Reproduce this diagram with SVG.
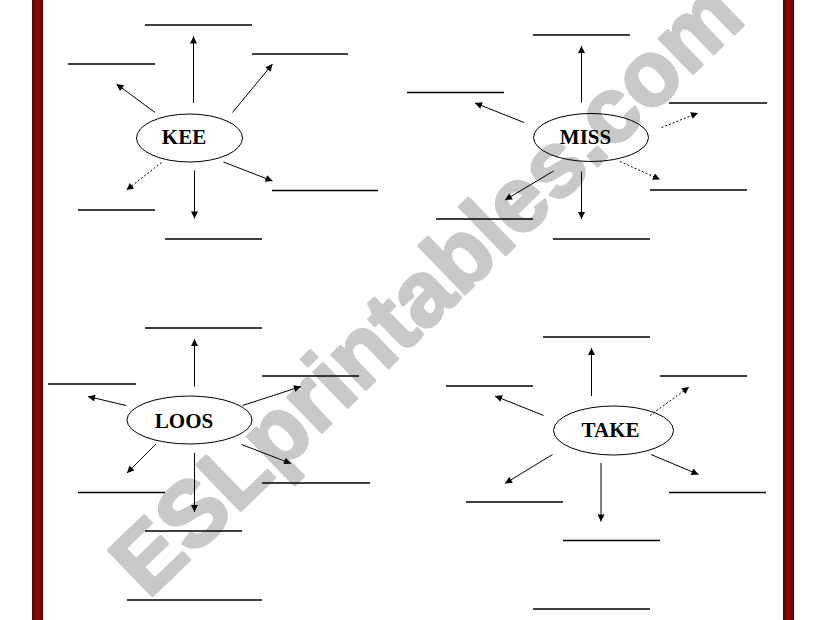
<svg xmlns="http://www.w3.org/2000/svg" width="821" height="620" viewBox="0 0 821 620">
<defs>
<linearGradient id="bar" x1="0" y1="0" x2="1" y2="0">
<stop offset="0" stop-color="#5e0000"/>
<stop offset="0.5" stop-color="#8e0c0c"/>
<stop offset="1" stop-color="#5e0000"/>
</linearGradient>
<marker id="ah" viewBox="0 0 10 10" refX="10" refY="5" markerWidth="9" markerHeight="7" markerUnits="userSpaceOnUse" orient="auto">
<path d="M0,0 L10,5 L0,10 z" fill="#000"/>
</marker>
</defs>
<style>
.blank{stroke:#000;stroke-width:1.3;fill:none}
.arr{stroke:#000;stroke-width:1;fill:none;marker-end:url(#ah)}
.dot{stroke-dasharray:2 2}
.node ellipse{fill:#fff;fill-opacity:0;stroke:#000;stroke-width:1}
.node text{font-family:"Liberation Serif","Times New Roman",serif;font-weight:bold;font-size:21px;text-anchor:middle;fill:#000}
.wm{font-family:"Liberation Sans",Arial,sans-serif;font-weight:bold;font-size:92px;fill:#c9c9c9;stroke:#c9c9c9;stroke-width:3;stroke-linejoin:round}
</style>
<rect width="821" height="620" fill="#fff"/>
<rect x="32" y="0" width="11" height="620" fill="url(#bar)"/>
<rect x="783" y="0" width="11" height="620" fill="url(#bar)"/>
<text class="wm" transform="translate(148,600) rotate(-44)">ESLprintables.com</text>

<g id="blanks">
<line class="blank" x1="145" y1="25" x2="252" y2="25"/>
<line class="blank" x1="68" y1="64" x2="155" y2="64"/>
<line class="blank" x1="252" y1="54" x2="348" y2="54"/>
<line class="blank" x1="272" y1="190.5" x2="378" y2="190.5"/>
<line class="blank" x1="78" y1="210" x2="155" y2="210"/>
<line class="blank" x1="165" y1="239" x2="262" y2="239"/>

<line class="blank" x1="533" y1="35" x2="630" y2="35"/>
<line class="blank" x1="407" y1="92.5" x2="504" y2="92.5"/>
<line class="blank" x1="669" y1="103" x2="767" y2="103"/>
<line class="blank" x1="650" y1="190" x2="747" y2="190"/>
<line class="blank" x1="436" y1="219" x2="533" y2="219"/>
<line class="blank" x1="553" y1="239" x2="650" y2="239"/>

<line class="blank" x1="145" y1="328" x2="262" y2="328"/>
<line class="blank" x1="48" y1="384" x2="136" y2="384"/>
<line class="blank" x1="262" y1="376" x2="359" y2="376"/>
<line class="blank" x1="262" y1="483" x2="370" y2="483"/>
<line class="blank" x1="78" y1="492.5" x2="165" y2="492.5"/>
<line class="blank" x1="145" y1="531" x2="242" y2="531"/>
<line class="blank" x1="127" y1="600" x2="262" y2="600"/>

<line class="blank" x1="543" y1="337" x2="650" y2="337"/>
<line class="blank" x1="446" y1="386" x2="533" y2="386"/>
<line class="blank" x1="660" y1="376" x2="747" y2="376"/>
<line class="blank" x1="669" y1="492.5" x2="766" y2="492.5"/>
<line class="blank" x1="466" y1="502" x2="563" y2="502"/>
<line class="blank" x1="563" y1="540.5" x2="660" y2="540.5"/>
<line class="blank" x1="533" y1="609" x2="650" y2="609"/>
</g>

<g id="connectors">
<path class="arr" d="M193.5,103 L193.5,36.5"/>
<path class="arr" d="M155,112.5 L116.5,84"/>
<path class="arr" d="M232.5,112.5 L272.5,64"/>
<path class="arr dot" d="M161.5,162.5 L126.5,190"/>
<path class="arr" d="M194.5,170.5 L194.5,218.5"/>
<path class="arr" d="M223.5,162 L272.5,181"/>

<path class="arr" d="M581.5,102.5 L581.5,46"/>
<path class="arr" d="M524,122.5 L475,103"/>
<path class="arr dot" d="M661.5,127.5 L698,113"/>
<path class="arr dot" d="M620,161.5 L660,179.5"/>
<path class="arr" d="M553.5,171 L505,200"/>
<path class="arr" d="M581.5,171.5 L581.5,219"/>

<path class="arr" d="M194.5,386.5 L194.5,339"/>
<path class="arr" d="M126,405.5 L88,396.5"/>
<path class="arr" d="M242.5,405.5 L301,386.5"/>
<path class="arr" d="M156,444 L127,473"/>
<path class="arr" d="M194.5,453 L194.5,512"/>
<path class="arr" d="M241.5,444.5 L291,463.5"/>

<path class="arr" d="M591.5,396 L591.5,348"/>
<path class="arr" d="M543.5,415.5 L495,396"/>
<path class="arr dot" d="M650,415.5 L689,387"/>
<path class="arr" d="M552.5,454.5 L505,483.5"/>
<path class="arr" d="M601,463 L601,521.5"/>
<path class="arr" d="M651,454.5 L698.5,474.5"/>
</g>

<g id="node-kee" class="node">
<ellipse cx="189.5" cy="138" rx="53" ry="24"/>
<text x="184" y="144">KEE</text>
</g>
<g id="node-miss" class="node">
<ellipse cx="591" cy="137.5" rx="57.5" ry="24"/>
<text x="585.5" y="144">MISS</text>
</g>
<g id="node-loos" class="node">
<ellipse cx="189.5" cy="420" rx="62.5" ry="24"/>
<text x="184" y="427.5">LOOS</text>
</g>
<g id="node-take" class="node">
<ellipse cx="613.5" cy="430.5" rx="60" ry="24.5"/>
<text x="610.5" y="437">TAKE</text>
</g>
</svg>
